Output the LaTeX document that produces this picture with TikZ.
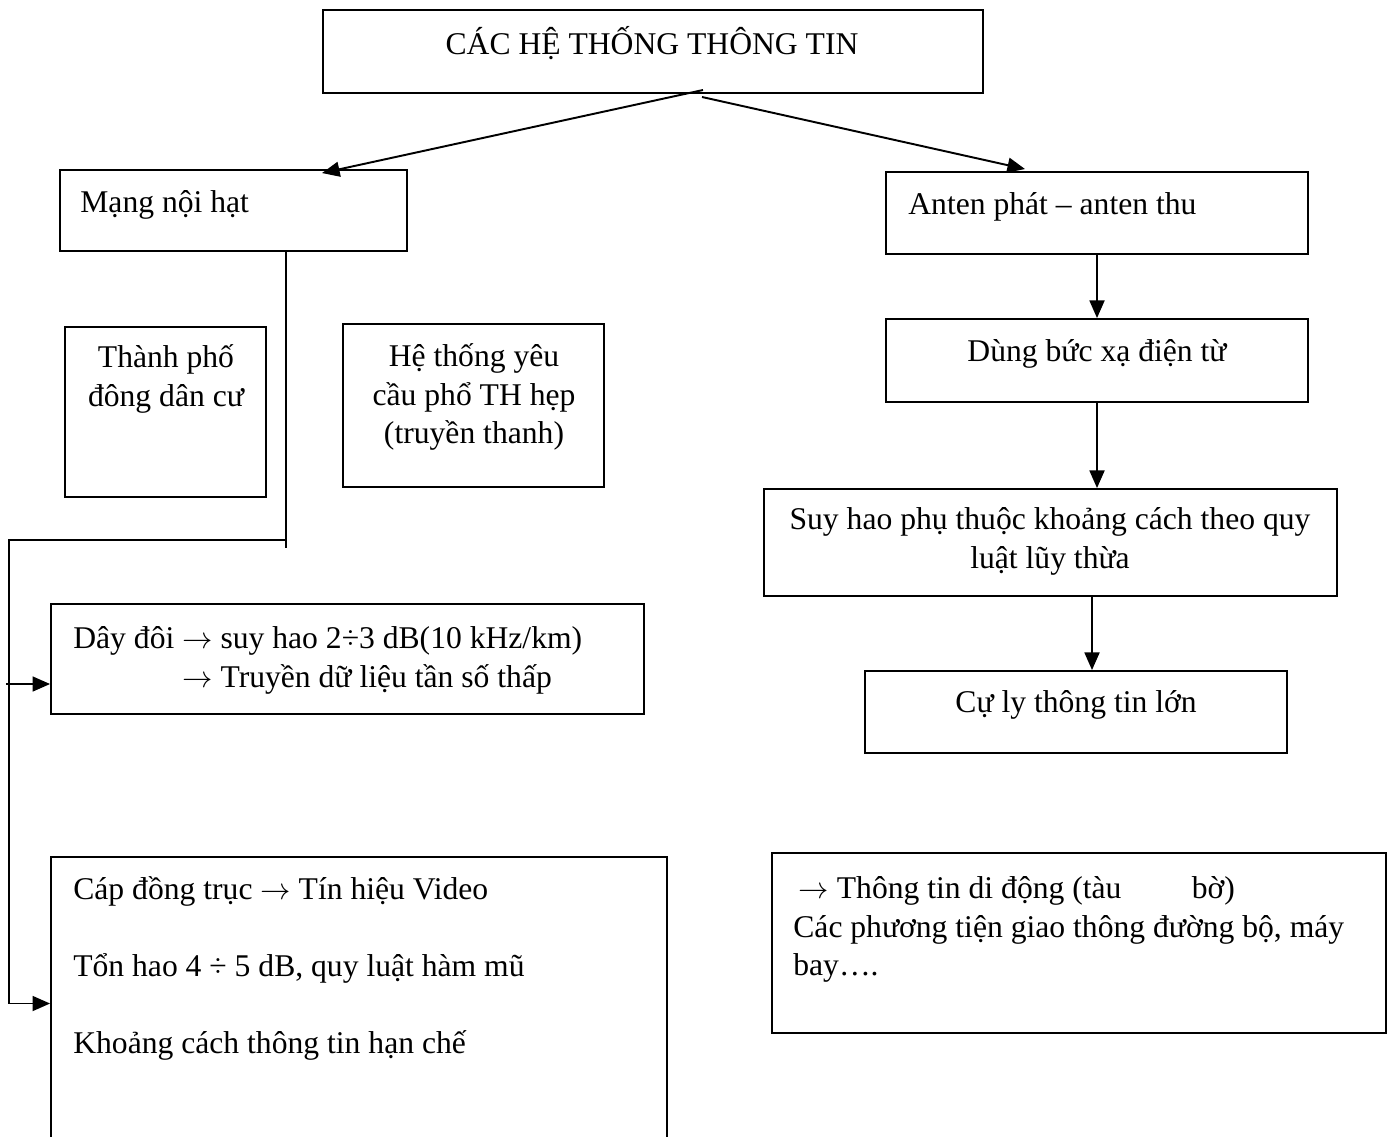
\documentclass[tikz,border=0pt]{standalone}
\usepackage{fontspec}
\setmainfont{Liberation Serif}
\usepackage{tikz}
\usetikzlibrary{calc,arrows.meta}
\newcommand{\ar}{\ensuremath{\rightarrow}}
\tikzset{
  box/.style={draw=black, line width=1.1pt, inner sep=0pt},
  txt/.style={inner sep=0pt, font=\fontsize{18}{21.8}\selectfont},
  txtl/.style={txt, align=left, anchor=west},
  txtc/.style={txt, align=center},
  arr/.style={draw=black, line width=1.1pt, -{Triangle[length=10pt,width=8.5pt]}},
  wire/.style={draw=black, line width=1.1pt}
}

\begin{document}
\begin{tikzpicture}[x=0.02cm,y=-0.02cm]
  \useasboundingbox (0,0) rectangle (1388,1136);

  % boxes
  \node[box, minimum width=13.2cm, minimum height=1.66cm] (top) at (653,51.5) {};
  \node[box, minimum width=6.94cm, minimum height=1.62cm] (mang) at (233.5,210.5) {};
  \node[box, minimum width=8.44cm, minimum height=1.64cm] (anten) at (1097,213) {};
  \node[box, minimum width=4.02cm, minimum height=3.40cm] (thanhpho) at (165.5,412) {};
  \node[box, minimum width=5.22cm, minimum height=3.26cm] (hethong) at (473.5,405.5) {};
  \node[box, minimum width=8.44cm, minimum height=1.66cm] (buxa) at (1097,360.5) {};
  \node[box, minimum width=11.46cm, minimum height=2.14cm] (suyhao) at (1050.5,542.5) {};
  \node[box, minimum width=8.44cm, minimum height=1.64cm] (culy) at (1076,712) {};
  \node[box, minimum width=11.86cm, minimum height=2.20cm] (daydoi) at (347.5,659) {};
  \node[box, minimum width=12.32cm, minimum height=5.86cm] (capdt) at (359,1003.5) {};
  \node[box, minimum width=12.28cm, minimum height=3.60cm] (didong) at (1079,943) {};

  % texts
  \node[txtc] (tTop) at (652,43) {CÁC HỆ THỐNG THÔNG TIN};
  \node[txtl] (tMang) at (80,205) {Mạng nội hạt};
  \node[txtl] (tAnten) at (908,207) {Anten phát – anten thu};
  \node[txtc] (tThanhpho) at (166,379) {Thành phố\\đông dân cư};
  \node[txtc] (tHethong) at (474,397) {Hệ thống yêu\\cầu phổ TH hẹp\\(truyền thanh)};
  \node[txtc] (tBuxa) at (1097,354) {Dùng bức xạ điện từ};
  \node[txtc] (tSuyhao) at (1050,541.5) {Suy hao phụ thuộc khoảng cách theo quy\\luật lũy thừa};
  \node[txtc] (tCuly) at (1076,705) {Cự ly thông tin lớn};
  \node[txtl] (tDaydoi) at (73,660.5) {Dây đôi \ar{} suy hao 2÷3 dB(10 kHz/km)\\\hspace*{62pt}\ar{} Truyền dữ liệu tần số thấp};
  \node[txtl] (tCapdt) at (73,968.5) {Cáp đồng trục \ar{} Tín hiệu Video\\[21.8pt]Tổn hao 4 ÷ 5 dB, quy luật hàm mũ\\[21.8pt]Khoảng cách thông tin hạn chế};
  \node[txtl] (tDidong) at (793,929.5) {\hspace*{3pt}\ar{} Thông tin di động (tàu\hspace*{40pt}bờ)\\Các phương tiện giao thông đường bộ, máy\\bay….};

  % connectors
  \coordinate (fork1) at (703,90);
  \coordinate (fork2) at (702,97);
  \draw[arr] (fork1) -- ($(mang.north)+(88.5,4)$);
  \draw[arr] (fork2) -- ($(anten.north)+(-72,-2)$);
  \draw[arr] (anten.south) -- (buxa.north);
  \draw[arr] (buxa.south) -- (buxa.south |- suyhao.north);
  \draw[arr] ($(suyhao.south)+(41.5,0)$) -- ($(culy.north)+(16,0)$);

  % left trunk
  \coordinate (trunk) at (286,548);
  \coordinate (bend) at (9,540);
  \draw[wire] (mang.south -| trunk) -- (trunk);
  \draw[wire] (trunk |- bend) -- (bend) -- (bend |- capdt.west);
  \draw[arr] (6,684) -- (daydoi.west |- 6,684);
  \draw[arr] (bend |- capdt.west) -- (capdt.west);
\end{tikzpicture}
\end{document}
